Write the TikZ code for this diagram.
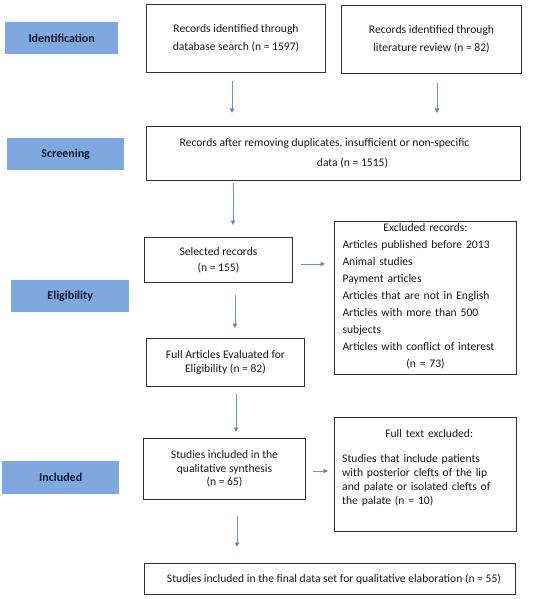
\documentclass[tikz,border=0pt]{standalone}
\usepackage{fontspec}
\setmainfont{Carlito}
\usetikzlibrary{arrows.meta}
\definecolor{labfill}{HTML}{7FA8DE}
\definecolor{labtext}{HTML}{0E1A33}
\definecolor{arrline}{HTML}{6A93C8}
\definecolor{arrtip}{HTML}{2F5A9A}
\definecolor{boxline}{HTML}{333333}
\begin{document}
\begin{tikzpicture}[x=1pt,y=-1pt,
  stagebox/.style={rectangle, fill=labfill, draw=none, anchor=north west, inner sep=0pt,
    font=\fontsize{12}{14}\selectfont\bfseries, text=labtext},
  flowbox/.style={rectangle, draw=boxline, line width=1pt, anchor=north west, inner sep=0pt,
    align=center, font=\fontsize{11.6}{18}\selectfont, text=black!90},
  flowtext/.style={inner sep=0pt, font=\fontsize{11.6}{17}\selectfont, text=black!90},
  arr/.style={draw=arrline, line width=0.9pt, -{Triangle[length=4.5pt,width=4.5pt,fill=arrtip]}}]
\useasboundingbox (0,0) rectangle (550,599);
\fill[white] (0,0) rectangle (550,599);
% stage labels
\node[stagebox, minimum width=113pt, minimum height=32pt] (id) at (5,22) {Identification};
\node[stagebox, minimum width=117pt, minimum height=32pt] (scr) at (7,138) {Screening};
\node[stagebox, minimum width=118pt, minimum height=32pt] (eli) at (11,280) {Eligibility};
\node[stagebox, minimum width=117pt, minimum height=33pt] (inc) at (2,461) {Included};
% flow boxes
\node[flowbox, minimum width=179pt, minimum height=68pt] (b1) at (146,4)
  {Records identified through\\database search (n = 1597)};
\node[flowbox, minimum width=180pt, minimum height=68pt] (b2) at (341,5)
  {Records identified through\\literature review (n = 82)};
\node[flowbox, minimum width=374pt, minimum height=54pt, font=\fontsize{11.6}{20}\selectfont] (b3) at (146,126)
  {Records after removing duplicates, insufficient or non-specific\hspace*{18pt}\\\hspace*{38pt}data (n = 1515)};
\node[flowbox, minimum width=148pt, minimum height=45pt, font=\fontsize{11.6}{16}\selectfont] (sel) at (144,237)
  {Selected records\\(n = 155)};
\node[flowbox, minimum width=182pt, minimum height=153pt] (exc) at (334,221) {};
\node[flowtext, anchor=north, text width=166pt, align=left, yshift=-2.5pt] (exct) at (exc.north)
  {\makebox[\linewidth]{Excluded records:}\\
   Articles published before 2013\\
   Animal studies\\
   Payment articles\\
   Articles that are not in English\\
   Articles with more than 500\\
   subjects\\
   Articles with conflict of interest\\
   \makebox[\linewidth]{(n = 73)}};
\node[flowbox, minimum width=158pt, minimum height=48pt, font=\fontsize{11.6}{14}\selectfont] (full) at (146,338)
  {Full Articles Evaluated for\\Eligibility (n = 82)};
\node[flowbox, minimum width=162pt, minimum height=61pt, font=\fontsize{11.6}{13.5}\selectfont] (stu) at (143,438)
  {Studies included in the\\qualitative synthesis\\(n = 65)};
\node[flowbox, minimum width=182pt, minimum height=114pt] (fte) at (334,417) {};
\node[flowtext, anchor=north west, text width=174pt, align=left, font=\fontsize{11.6}{14}\selectfont] (ftet) at ([xshift=8pt,yshift=-12.5pt]fte.north west)
  {\makebox[\linewidth]{Full text excluded:}\\[11pt]
   \makebox[143pt][s]{Studies that include patients}\\
   \makebox[143pt][s]{with posterior clefts of the lip}\\
   \makebox[143pt][s]{and palate or isolated clefts of}\\
   the palate (n = 10)};
\node[flowbox, minimum width=371pt, minimum height=31pt] (fin) at (144,563)
  {\hspace*{8pt}Studies included in the final data set for qualitative elaboration (n = 55)};
% arrow x positions
\coordinate (xa) at (232,0);
\coordinate (xb) at (437,0);
\coordinate (xc) at (233,0);
\coordinate (xd) at (235,0);
\coordinate (xe) at (236,0);
\coordinate (xf) at (237,0);
\coordinate (ya) at (0,264);
\coordinate (yb) at (0,471);
% connectors
\draw[arr, shorten <=8pt, shorten >=13pt] (b1.south -| xa) -- (b3.north -| xa);
\draw[arr, shorten <=9pt, shorten >=13pt] (b2.south -| xb) -- (b3.north -| xb);
\draw[arr, shorten <=2pt, shorten >=12pt] (b3.south -| xc) -- (sel.north -| xc);
\draw[arr, shorten <=8pt, shorten >=9pt] (sel.east |- ya) -- (exc.west |- ya);
\draw[arr, shorten <=12pt, shorten >=10pt] (sel.south -| xd) -- (full.north -| xd);
\draw[arr, shorten <=7pt, shorten >=6pt] (full.south -| xe) -- (stu.north -| xe);
\draw[arr, shorten <=7pt, shorten >=6pt] (stu.east |- yb) -- (fte.west |- yb);
\draw[arr, shorten <=16pt, shorten >=16pt] (stu.south -| xf) -- (fin.north -| xf);
\end{tikzpicture}
\end{document}
